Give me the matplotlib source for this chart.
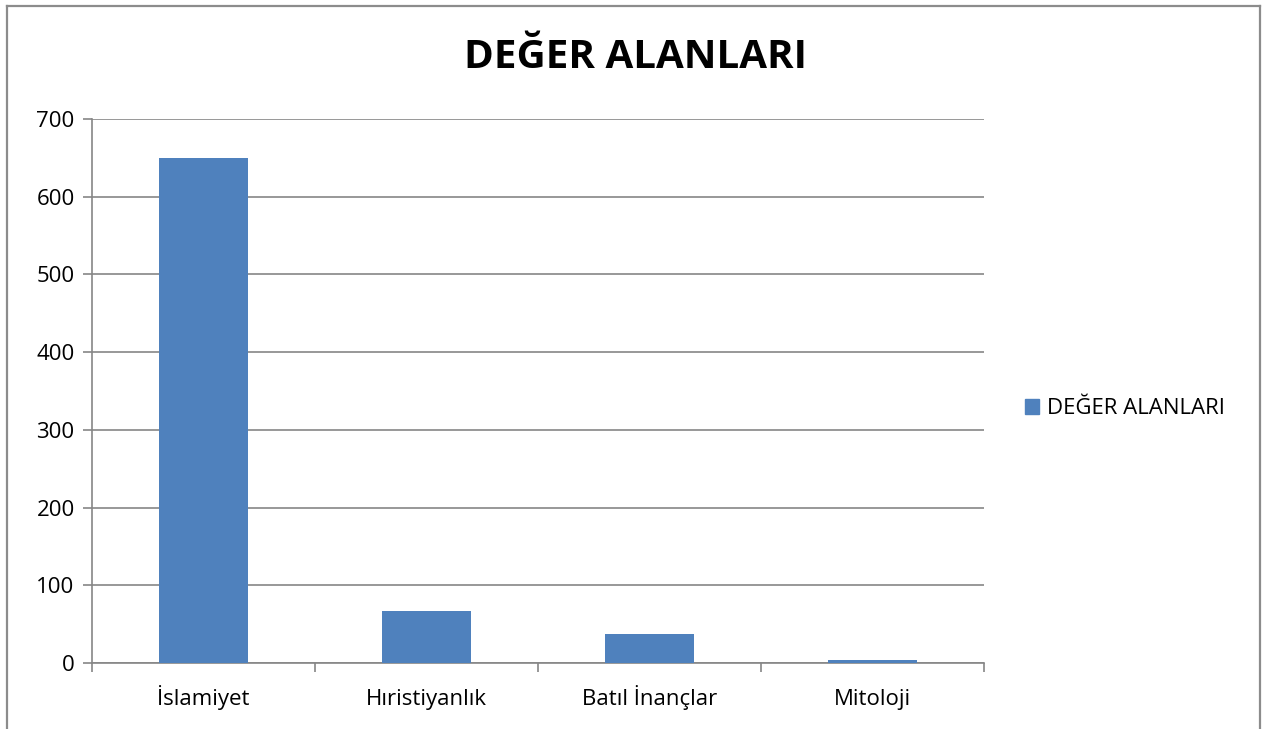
import matplotlib.pyplot as plt
from matplotlib.lines import Line2D
from matplotlib.patches import Patch

categories = ['İslamiyet', 'Hıristiyanlık', 'Batıl İnançlar', 'Mitoloji']
values = [650, 67, 37, 4]
series_name = 'DEĞER ALANLARI'
yticks = [0, 100, 200, 300, 400, 500, 600, 700]

plt.rcParams['font.family'] = ['Open Sans', 'DejaVu Sans']
bar_color = '#4f81bd'
axis_gray = '#868686'

W, H = 1275, 729
fig = plt.figure(figsize=(W / 100, H / 100), dpi=100)
ax = fig.add_axes([92 / W, (H - 663) / H, 892 / W, 544 / H])

x = range(len(categories))
ax.bar(x, values, width=0.4, color=bar_color, zorder=3)

ax.set_xlim(-0.5, len(categories) - 0.5)
ax.set_ylim(0, 700)
ax.set_yticks(yticks)
ax.set_yticklabels([str(v) for v in yticks], fontsize=16)
ax.yaxis.grid(True, color=axis_gray, linewidth=1.2, zorder=0)

ax.set_xticks(list(x))
ax.set_xticklabels(categories, fontsize=16)
ax.tick_params(axis='x', length=0, pad=30)
for lab in ax.get_xticklabels():
    lab.set_verticalalignment('baseline')
ax.set_xticks([i - 0.5 for i in range(len(categories) + 1)], minor=True)
ax.tick_params(axis='x', which='minor', length=6.5, color=axis_gray, width=1.2, direction='out')
ax.tick_params(axis='y', length=6.5, color=axis_gray, width=1.2, direction='out', pad=6)

for side in ['top', 'right']:
    ax.spines[side].set_visible(False)
for side in ['left', 'bottom']:
    ax.spines[side].set_color(axis_gray)
    ax.spines[side].set_linewidth(1.2)

fig.text(635 / W, 1 - 57 / H, series_name, ha='center', va='center',
         fontsize=29, fontweight='bold')

fig.legend(handles=[Patch(color=bar_color, label=series_name)],
           loc='center left', bbox_to_anchor=(1025 / W, 1 - 409 / H),
           frameon=False, fontsize=16, handlelength=0.65, handleheight=0.65,
           handletextpad=0.35, borderpad=0, borderaxespad=0)

# outer chart frame (bottom edge cut off)
frame = dict(color='#8c8c8c', linewidth=1.6, transform=fig.transFigure)
fig.add_artist(Line2D([7 / W, 7 / W], [0, 1 - 6 / H], **frame))
fig.add_artist(Line2D([7 / W, 1260 / W], [1 - 6 / H, 1 - 6 / H], **frame))
fig.add_artist(Line2D([1260 / W, 1260 / W], [0, 1 - 6 / H], **frame))

fig.savefig('out.png', dpi=100, facecolor='white')
